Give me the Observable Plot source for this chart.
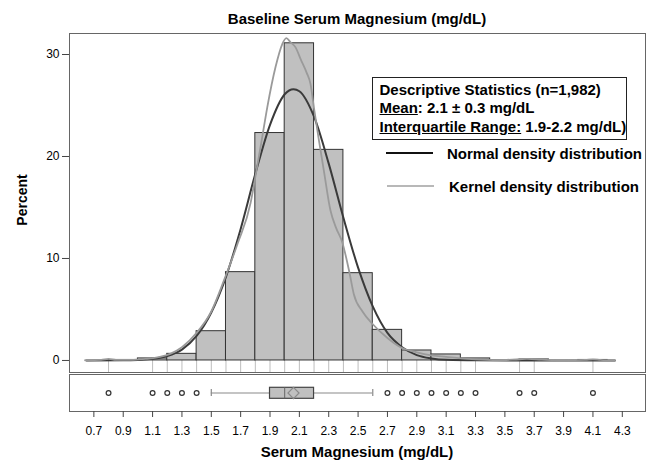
<!DOCTYPE html>
<html>
<head>
<meta charset="utf-8">
<script src="https://cdn.jsdelivr.net/npm/d3@7"></script>
<script src="https://cdn.jsdelivr.net/npm/@observablehq/plot@0.6"></script>
<style>
  body { margin: 0; background: #fff; }
  #wrap { position: relative; width: 655px; height: 460px; overflow: hidden; background: #fff;
          font-family: "Liberation Sans", Arial, sans-serif; color: #000; }
  .abs { position: absolute; white-space: nowrap; }
  .b15 { font-weight: bold; font-size: 15px; line-height: 15px; }
  #stats { position: absolute; left: 372px; top: 77px; width: 255px; height: 63px;
           border: 1.5px solid #222; padding: 2.5px 0 0 6.5px; box-sizing: border-box;
           font-weight: bold; font-size: 15px; line-height: 18.6px; white-space: nowrap; }
</style>
</head>
<body>
<div id="wrap">
  <div class="abs b15" style="left:69px;width:576px;top:11.3px;text-align:center;">Baseline Serum Magnesium (mg/dL)</div>
  <div id="chart-top" class="abs" style="left:0;top:0;"></div>
  <div id="chart-box" class="abs" style="left:0;top:373px;"></div>
  <div id="stats">
    <div>Descriptive Statistics (n=1,982)</div>
    <div><u>Mean</u>: 2.1 ± 0.3 mg/dL</div>
    <div><u>Interquartile Range:</u> 1.9-2.2 mg/dL)</div>
  </div>
  <div class="abs" style="left:386px;top:152px;width:47px;height:0;border-top:2.6px solid #111;"></div>
  <div class="abs b15" style="left:447px;top:146.3px;">Normal density distribution</div>
  <div class="abs" style="left:387px;top:185px;width:47px;height:0;border-top:2px solid #b8b8b8;"></div>
  <div class="abs b15" style="left:449px;top:178.8px;">Kernel density distribution</div>
  <div class="abs" style="left:22px;top:200px;font-weight:bold;font-size:14px;line-height:14px;transform:translate(-50%,-50%) rotate(-90deg);">Percent</div>
  <div class="abs b15" style="left:69px;width:576px;top:444px;text-align:center;">Serum Magnesium (mg/dL)</div>
</div>
<script>
// ---- data ----
const binEdges = [0.8, 1.0, 1.2, 1.4, 1.6, 1.8, 2.0, 2.2, 2.4, 2.6, 2.8, 3.0, 3.2, 3.4, 3.6, 3.8, 4.0, 4.2];
const binPercent = [0.05, 0.2, 0.65, 2.87, 8.66, 22.3, 31.1, 20.65, 8.56, 3.0, 0.98, 0.59, 0.2, 0, 0.1, 0, 0.05];

const normalX = [0.65, 0.9, 1.0, 1.1, 1.2, 1.3, 1.4, 1.5, 1.6, 1.7, 1.8, 1.9, 2.0, 2.06, 2.1, 2.2, 2.3, 2.4, 2.5, 2.6, 2.7, 2.8, 2.9, 3.0, 3.1, 3.3, 3.6, 4.25];
const normalY = [0, 0.01, 0.05, 0.16, 0.44, 1.07, 2.4, 4.7, 8.2, 12.9, 18.3, 23.1, 26.1, 26.6, 26.4, 23.9, 19.3, 14.0, 9.1, 5.3, 2.7, 1.3, 0.53, 0.2, 0.06, 0.01, 0, 0];

const kernelX = [0.64, 0.75, 0.8, 0.85, 0.95, 1.05, 1.15, 1.22, 1.3, 1.4, 1.5, 1.585, 1.68, 1.767, 1.8, 1.84, 1.881, 1.938, 1.983, 2.011, 2.04, 2.074, 2.11, 2.15, 2.176, 2.199, 2.233, 2.267, 2.312, 2.35, 2.392, 2.44, 2.471, 2.53, 2.597, 2.7, 2.789, 2.9, 3.0, 3.1, 3.2, 3.3, 3.45, 3.6, 3.65, 3.75, 3.9, 4.05, 4.1, 4.15, 4.25];
const kernelY = [0.02, 0.05, 0.15, 0.05, 0.05, 0.15, 0.35, 0.65, 1.3, 2.7, 4.8, 7.8, 11.5, 15.4, 18.0, 21.3, 24.8, 28.8, 31.0, 31.6, 31.2, 30.7, 29.5, 28.2, 27.1, 24.8, 21.6, 18.6, 14.7, 13.0, 11.6, 8.7, 6.5, 4.8, 3.6, 2.2, 1.3, 0.8, 0.5, 0.35, 0.2, 0.1, 0.03, 0.12, 0.15, 0.08, 0.01, 0.05, 0.1, 0.05, 0.01];

const rugValues = [0.8, 1.1, 1.2, 1.3, 1.4, 1.5, 1.6, 1.7, 1.8, 1.9, 2.0, 2.1, 2.2, 2.3, 2.4, 2.5, 2.6, 2.7, 2.8, 2.9, 3.0, 3.1, 3.2, 3.3, 3.6, 3.7, 4.1];

const boxQuartiles = [1.9, 2.0, 2.2];   // Q1, median, Q3
const boxWhiskers = [1.5, 2.6];
const boxMean = [2.06];
const outliers = [0.8, 1.1, 1.2, 1.3, 1.4, 2.7, 2.8, 2.9, 3.0, 3.1, 3.2, 3.3, 3.6, 3.7, 4.1];

const yTicks = [0, 10, 20, 30];
const xTicks = [0.7, 0.9, 1.1, 1.3, 1.5, 1.7, 1.9, 2.1, 2.3, 2.5, 2.7, 2.9, 3.1, 3.3, 3.5, 3.7, 3.9, 4.1, 4.3];

// ---- tables built from the arrays ----
const bars = binPercent.map((p, i) => ({x1: binEdges[i], x2: binEdges[i + 1], pct: p})).filter(d => d.pct > 0);
const normal = normalX.map((x, i) => ({x, y: normalY[i]}));
const kernel = kernelX.map((x, i) => ({x, y: kernelY[i]}));
const whiskerSegs = [{x1: boxWhiskers[0], x2: boxQuartiles[0]}, {x1: boxQuartiles[2], x2: boxWhiskers[1]}];

const xDomain = [0.534, 4.458];
const yDomain = [-1.18, 32.06];
const font = "'Liberation Sans', Arial, sans-serif";

const histChart = Plot.plot({
  width: 655, height: 373,
  marginLeft: 69, marginRight: 10, marginTop: 33, marginBottom: 1,
  x: {domain: xDomain, axis: null},
  y: {domain: yDomain, axis: null},
  style: {fontFamily: font, fontSize: "12px", color: "#000", background: "transparent", overflow: "visible"},
  marks: [
    Plot.ruleX(rugValues, {x: d => d, y1: yDomain[0], y2: 0, stroke: "#bdbdbd", strokeWidth: 1}),
    Plot.rectY(bars, {x1: "x1", x2: "x2", y: "pct", fill: "#c0c0c0", stroke: "#333", strokeWidth: 1}),
    Plot.line(normal, {x: "x", y: "y", stroke: "#3a3a3a", strokeWidth: 2, curve: "monotone-x"}),
    Plot.line(kernel, {x: "x", y: "y", stroke: "#9a9a9a", strokeWidth: 1.8, curve: "monotone-x"}),
    Plot.frame({stroke: "#666", strokeWidth: 1}),
    Plot.axisY(yTicks, {tickSize: 7, tickPadding: 3, label: null, fontSize: 12, stroke: "#444"})
  ]
});
document.getElementById("chart-top").appendChild(histChart);

const boxChart = Plot.plot({
  width: 655, height: 87,
  marginLeft: 69, marginRight: 10, marginTop: 1, marginBottom: 49,
  x: {domain: xDomain},
  y: {domain: ["Mg"], axis: null, padding: 0},
  style: {fontFamily: font, fontSize: "12px", color: "#000", background: "transparent", overflow: "visible"},
  marks: [
    Plot.ruleY(whiskerSegs, {x1: "x1", x2: "x2", y: () => "Mg", stroke: "#8a8a8a", strokeWidth: 1.2}),
    Plot.tickX(boxWhiskers, {x: d => d, y: () => "Mg", insetTop: 15, insetBottom: 15, stroke: "#8a8a8a", strokeWidth: 1.2}),
    Plot.barX([boxQuartiles], {x1: d => d[0], x2: d => d[2], y: () => "Mg", insetTop: 13.3, insetBottom: 12.7, fill: "#c0c0c0", stroke: "#444", strokeWidth: 1.2}),
    Plot.tickX([boxQuartiles[1]], {x: d => d, y: () => "Mg", insetTop: 13.3, insetBottom: 12.7, stroke: "#666", strokeWidth: 1}),
    Plot.dot(boxMean, {x: d => d, y: () => "Mg", symbol: "diamond2", r: 5, stroke: "#8a8a8a", strokeWidth: 1.2, fill: "none"}),
    Plot.dot(outliers, {x: d => d, y: () => "Mg", r: 2.4, stroke: "#333", strokeWidth: 1.2, fill: "none"}),
    Plot.frame({stroke: "#666", strokeWidth: 1}),
    Plot.axisX(xTicks, {tickSize: 6, tickPadding: 9, label: null, fontSize: 12, stroke: "#444", tickFormat: d => d.toFixed(1)})
  ]
});
document.getElementById("chart-box").appendChild(boxChart);
</script>
</body>
</html>
